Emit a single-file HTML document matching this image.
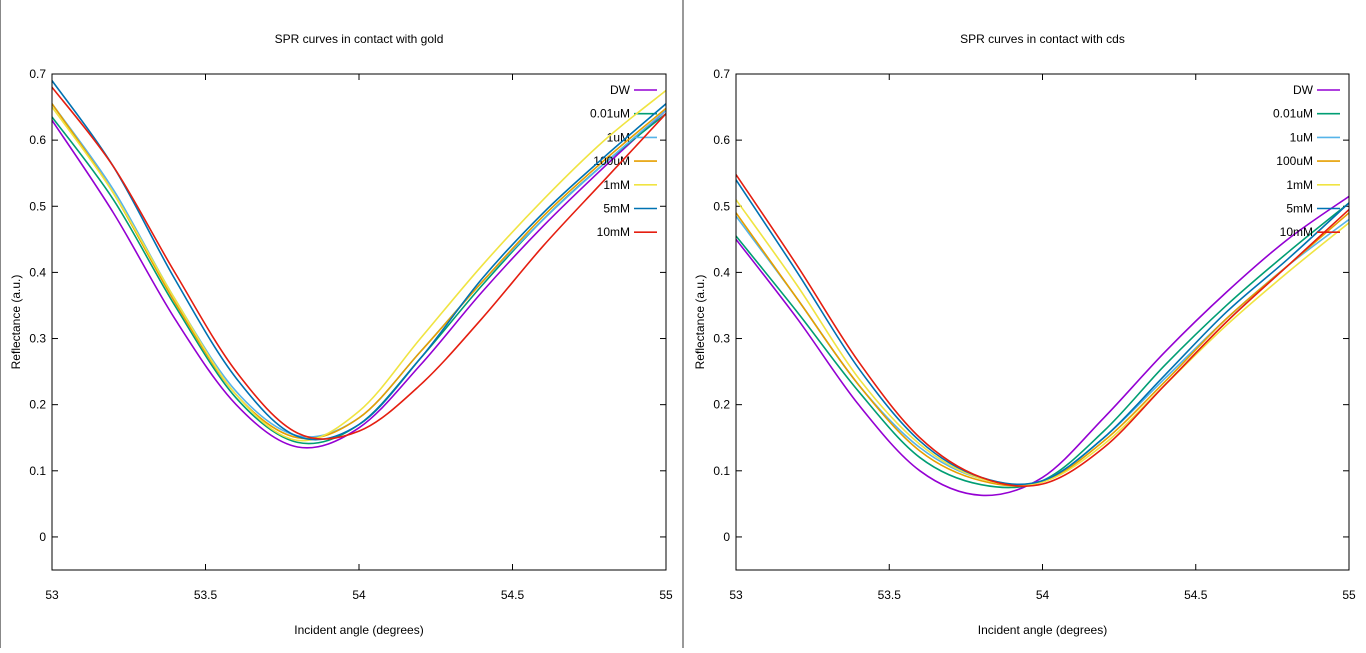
<!DOCTYPE html>
<html><head><meta charset="utf-8"><style>
body{margin:0;background:#fff;width:1366px;height:648px;overflow:hidden;font-family:"Liberation Sans",sans-serif}
svg text{font-family:"Liberation Sans",sans-serif;font-size:12px;fill:#000}
</style></head><body>
<svg id="s" width="1366" height="648">
<rect x="0" y="0" width="1366" height="648" fill="#fff"/>
<line x1="0.5" y1="0" x2="0.5" y2="648" stroke="#888"/>
<line x1="683" y1="0" x2="683" y2="648" stroke="#999" stroke-width="2"/>
</svg>
<script>
const angles=[53,53.2,53.4,53.6,53.8,54,54.2,54.4,54.6,54.8,55];
const seriesNames=["DW","0.01uM","1uM","100uM","1mM","5mM","10mM"];
const goldDW=[0.63,0.49,0.33,0.2,0.136,0.165,0.26,0.37,0.47,0.56,0.645];
const gold001uM=[0.635,0.51,0.35,0.21,0.143,0.17,0.27,0.38,0.48,0.565,0.64];
const gold1uM=[0.655,0.525,0.36,0.22,0.153,0.18,0.28,0.385,0.48,0.565,0.645];
const gold100uM=[0.655,0.52,0.355,0.215,0.15,0.18,0.28,0.385,0.485,0.57,0.648];
const gold1mM=[0.65,0.52,0.36,0.215,0.146,0.19,0.30,0.41,0.51,0.60,0.675];
const gold5mM=[0.69,0.56,0.39,0.24,0.152,0.17,0.27,0.39,0.49,0.575,0.655];
const gold10mM=[0.68,0.56,0.40,0.25,0.157,0.16,0.23,0.33,0.44,0.54,0.64];
const cdsDW=[0.45,0.33,0.20,0.10,0.063,0.09,0.18,0.28,0.37,0.45,0.515];
const cds001uM=[0.455,0.34,0.22,0.12,0.079,0.085,0.16,0.26,0.35,0.43,0.505];
const cds1uM=[0.485,0.36,0.23,0.135,0.088,0.085,0.15,0.24,0.33,0.41,0.48];
const cds100uM=[0.49,0.36,0.23,0.13,0.085,0.083,0.145,0.235,0.33,0.41,0.49];
const cds1mM=[0.51,0.38,0.24,0.14,0.088,0.083,0.14,0.23,0.32,0.40,0.475];
const cds5mM=[0.54,0.40,0.255,0.145,0.09,0.085,0.15,0.245,0.34,0.42,0.505];
const cds10mM=[0.548,0.41,0.265,0.15,0.09,0.08,0.135,0.23,0.325,0.41,0.495];
const xTicks=[53,53.5,54,54.5,55];
const xTickLabels=["53","53.5","54","54.5","55"];
const yTicks=[0,0.1,0.2,0.3,0.4,0.5,0.6,0.7];
const colors=["#9400d3","#009e73","#56b4e9","#e69f00","#f0e442","#0072b2","#e51e10"];
const NS="http://www.w3.org/2000/svg";
const svg=document.getElementById("s");
function mk(t,a,p){const e=document.createElementNS(NS,t);for(const k in a)e.setAttribute(k,a[k]);(p||svg).appendChild(e);return e;}
function panel(x0,x1,title,data,pname){
  const y0=74,y1=570;
  const X=a=>x0+(a-53)/2*(x1-x0);
  const Y=v=>y1-(v+0.05)/0.75*(y1-y0);
  const g=mk("g",{});
  
  
  const t=mk("text",{x:(x0+x1)/2,y:43,"text-anchor":"middle"},g);t.textContent=title;
  
  
  xTicks.forEach((a,i)=>{
    mk("line",{x1:X(a),y1:y1,x2:X(a),y2:y1-6,stroke:"#000"},g);
    mk("line",{x1:X(a),y1:y0,x2:X(a),y2:y0+6,stroke:"#000"},g);
    const l=mk("text",{x:X(a),y:599,"text-anchor":"middle"},g);l.textContent=xTickLabels[i];
    
    
  });
  yTicks.forEach(v=>{
    mk("line",{x1:x0,y1:Y(v),x2:x0+6,y2:Y(v),stroke:"#000"},g);
    mk("line",{x1:x1,y1:Y(v),x2:x1-6,y2:Y(v),stroke:"#000"},g);
    const l=mk("text",{x:x0-6,y:Y(v)+4,"text-anchor":"end"},g);l.textContent=v===0?"0":v.toFixed(1);
    
    
  });
  const xl=mk("text",{x:(x0+x1)/2,y:634,"text-anchor":"middle"},g);xl.textContent="Incident angle (degrees)";
  
  
  const yl=mk("text",{x:0,y:0,"text-anchor":"middle",transform:`translate(${x0-32},${(y0+y1)/2}) rotate(-90)`},g);yl.textContent="Reflectance (a.u.)";
  
  
  const clip="c"+pname;
  const cp=mk("clipPath",{id:clip},g);mk("rect",{x:x0,y:y0,width:x1-x0,height:y1-y0},cp);
  data.forEach((vals,si)=>{
    const P=vals.map((v,i)=>[X(angles[i]),Y(v)]);
    let d="M"+P[0][0]+","+P[0][1];
    for(let i=0;i<P.length-1;i++){
      const p0=P[Math.max(0,i-1)],p1=P[i],p2=P[i+1],p3=P[Math.min(P.length-1,i+2)];
      const c1=[p1[0]+(p2[0]-p0[0])/6,p1[1]+(p2[1]-p0[1])/6];
      const c2=[p2[0]-(p3[0]-p1[0])/6,p2[1]-(p3[1]-p1[1])/6];
      d+=` C${c1[0]},${c1[1]} ${c2[0]},${c2[1]} ${p2[0]},${p2[1]}`;
    }
    const path=mk("path",{d:d,fill:"none",stroke:colors[si],"stroke-width":1.6,"clip-path":`url(#${clip})`},g);
    
    
    const ly=90+si*23.7;
    const lt=mk("text",{x:x1-36,y:ly+4,"text-anchor":"end"},g);lt.textContent=seriesNames[si];
    
    
    mk("line",{x1:x1-32,y1:ly,x2:x1-9,y2:ly,stroke:colors[si],"stroke-width":1.6},g);
  });
  mk("rect",{x:x0,y:y0,width:x1-x0,height:y1-y0,fill:"none",stroke:"#000"},g);
}
panel(52,666,"SPR curves in contact with gold",[goldDW,gold001uM,gold1uM,gold100uM,gold1mM,gold5mM,gold10mM],"gold-panel");
panel(736,1349,"SPR curves in contact with cds",[cdsDW,cds001uM,cds1uM,cds100uM,cds1mM,cds5mM,cds10mM],"cds-panel");
</script>
</body></html>
